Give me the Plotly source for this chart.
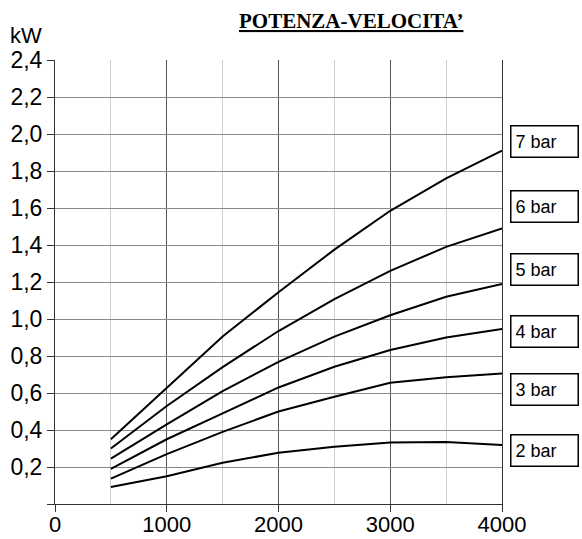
import plotly.graph_objects as go

# Speed (rpm) sample points
speed = [500, 1000, 1500, 2000, 2500, 3000, 3500, 4000]

# Power (kW) for each supply pressure
pressures = ["7 bar", "6 bar", "5 bar", "4 bar", "3 bar", "2 bar"]
power_7 = [0.35, 0.625, 0.905, 1.145, 1.375, 1.585, 1.76, 1.91]
power_6 = [0.30, 0.53, 0.74, 0.935, 1.108, 1.26, 1.39, 1.49]
power_5 = [0.245, 0.43, 0.61, 0.768, 0.905, 1.02, 1.12, 1.19]
power_4 = [0.19, 0.35, 0.49, 0.63, 0.742, 0.832, 0.90, 0.946]
power_3 = [0.137, 0.27, 0.39, 0.50, 0.58, 0.655, 0.685, 0.706]
power_2 = [0.092, 0.15, 0.223, 0.277, 0.31, 0.333, 0.335, 0.319]
curves = [power_7, power_6, power_5, power_4, power_3, power_2]

# Tick labels
x_ticks = [0, 1000, 2000, 3000, 4000]
y_ticks = [0, 0.2, 0.4, 0.6, 0.8, 1.0, 1.2, 1.4, 1.6, 1.8, 2.0, 2.2, 2.4]
y_labels = ["" if v == 0 else f"{v:.1f}".replace(".", ",") for v in y_ticks]

# Vertical placement of the pressure tags beside the plot
tag_y = [1.96, 1.61, 1.27, 0.93, 0.62, 0.29]

W, H = 582, 539
ML, MR, MT, MB = 55, 80, 60, 35
PW, PH = W - ML - MR, H - MT - MB


def px_x(px):
    return (px - ML) / PW


def px_y(py):
    return (H - MB - py) / PH


fig = go.Figure()
for name, vals in zip(pressures, curves):
    fig.add_trace(go.Scatter(x=speed, y=vals, mode="lines", name=name,
                             line=dict(color="black", width=2),
                             showlegend=False))

annotations = []
for name, ty in zip(pressures, tag_y):
    annotations.append(dict(
        x=4000, y=ty, xref="x", yref="y", text=name,
        showarrow=False, xanchor="left", yanchor="middle",
        xshift=8, align="left", width=58, height=22,
        borderpad=4, bordercolor="black", borderwidth=1.5, bgcolor="white",
        font=dict(family="Liberation Sans, Arial", size=18, color="black")))

annotations.append(dict(
    text="<u><b>POTENZA-VELOCITA’</b></u>", x=px_x(351), y=px_y(21),
    xref="paper", yref="paper", xanchor="center", yanchor="middle",
    showarrow=False,
    font=dict(family="Liberation Serif, Times New Roman", size=21,
              color="black")))
annotations.append(dict(
    text="kW", x=px_x(26), y=px_y(35), xref="paper", yref="paper",
    xanchor="center", yanchor="middle", showarrow=False,
    font=dict(family="Liberation Sans, Arial", size=22, color="black")))

fig.update_layout(
    width=W, height=H,
    margin=dict(l=ML, r=MR, t=MT, b=MB, autoexpand=False),
    paper_bgcolor="white", plot_bgcolor="white",
    font=dict(family="Liberation Sans, Arial", color="black"),
    annotations=annotations,
)

fig.update_xaxes(
    range=[0, 4000], tickvals=x_ticks, ticktext=[str(v) for v in x_ticks],
    showgrid=True, gridcolor="#555555", gridwidth=1,
    minor=dict(dtick=500, tick0=0, showgrid=True, gridcolor="#cfcfcf",
               gridwidth=1, ticks=""),
    ticks="outside", ticklen=7, tickcolor="#333333",
    ticklabelstandoff=-6,
    showline=True, linecolor="#333333", linewidth=1, mirror=False,
    zeroline=False, automargin=False,
    tickfont=dict(size=22, color="black"),
)
fig.update_yaxes(
    range=[0, 2.4], tickvals=y_ticks, ticktext=y_labels,
    showgrid=True, gridcolor="#8a8a8a", gridwidth=1,
    ticks="outside", ticklen=7, tickcolor="#333333",
    showline=True, linecolor="#333333", linewidth=1, mirror=True,
    zeroline=False, automargin=False,
    tickfont=dict(size=23, color="black"),
)

fig.write_html("out.html")
